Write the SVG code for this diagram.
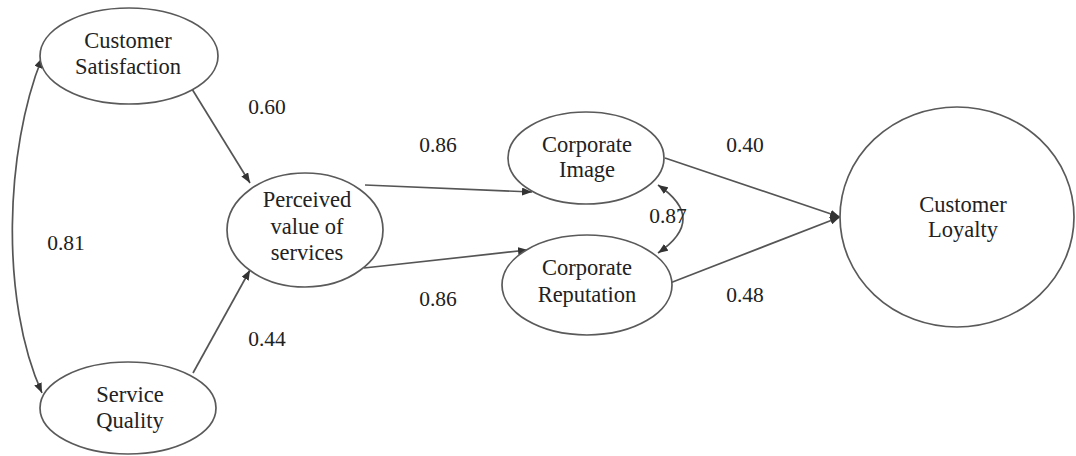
<svg xmlns="http://www.w3.org/2000/svg" width="1076" height="456" viewBox="0 0 1076 456">
  <style>
    .node ellipse { fill: #ffffff; stroke: #5a5a5a; stroke-width: 1.7; }
    .node text { font-family: "Liberation Serif", "Times New Roman", serif; font-size: 22.5px; fill: #222; text-anchor: middle; }
    .lbl { font-family: "Liberation Serif", "Times New Roman", serif; font-size: 21.5px; fill: #222; text-anchor: middle; }
    .edge { fill: none; stroke: #555; stroke-width: 1.7; }
  </style>
  <defs>
    <marker id="arrow" viewBox="0 0 10 8" refX="10" refY="4" markerWidth="10" markerHeight="8" markerUnits="userSpaceOnUse" orient="auto-start-reverse">
      <path d="M0,0 L10,4 L0,8 z" fill="#333"/>
    </marker>
  </defs>
  <rect width="1076" height="456" fill="#ffffff"/>

  <g id="connectors">
    <path class="edge" d="M192,89 L250,183" marker-end="url(#arrow)"/>
    <path class="edge" d="M193,373 L250,270" marker-end="url(#arrow)"/>
    <path class="edge" d="M42,58 C5,150 0,300 42,393" marker-start="url(#arrow)" marker-end="url(#arrow)"/>
    <path class="edge" d="M365,185 L532,192" marker-end="url(#arrow)"/>
    <path class="edge" d="M364,268 L528,250" marker-end="url(#arrow)"/>
    <path class="edge" d="M658,185 Q708,219 658,253" marker-start="url(#arrow)" marker-end="url(#arrow)"/>
    <path class="edge" d="M665,158 L840,217" marker-end="url(#arrow)"/>
    <path class="edge" d="M670,283 L840,217" marker-end="url(#arrow)"/>
  </g>

  <g id="labels">
    <text class="lbl" x="267" y="114">0.60</text>
    <text class="lbl" x="66" y="250">0.81</text>
    <text class="lbl" x="267" y="346">0.44</text>
    <text class="lbl" x="438" y="152">0.86</text>
    <text class="lbl" x="438" y="306">0.86</text>
    <text class="lbl" x="668" y="223">0.87</text>
    <text class="lbl" x="745" y="152">0.40</text>
    <text class="lbl" x="745" y="302">0.48</text>
  </g>

  <g id="customer-satisfaction" class="node">
    <ellipse cx="129" cy="56" rx="89" ry="48"/>
    <text x="128" y="48">Customer</text>
    <text x="128" y="74">Satisfaction</text>
  </g>
  <g id="service-quality" class="node">
    <ellipse cx="128" cy="408" rx="88" ry="46"/>
    <text x="130" y="402">Service</text>
    <text x="130" y="428">Quality</text>
  </g>
  <g id="perceived-value" class="node">
    <ellipse cx="305" cy="230" rx="78" ry="57"/>
    <text x="307" y="207">Perceived</text>
    <text x="307" y="234">value of</text>
    <text x="307" y="260">services</text>
  </g>
  <g id="corporate-image" class="node">
    <ellipse cx="586" cy="158" rx="78" ry="46"/>
    <text x="587" y="152">Corporate</text>
    <text x="587" y="177">Image</text>
  </g>
  <g id="corporate-reputation" class="node">
    <ellipse cx="587" cy="285" rx="85" ry="50"/>
    <text x="587" y="275">Corporate</text>
    <text x="587" y="302">Reputation</text>
  </g>
  <g id="customer-loyalty" class="node">
    <ellipse cx="957" cy="217" rx="117" ry="110"/>
    <text x="963" y="212">Customer</text>
    <text x="963" y="237">Loyalty</text>
  </g>
</svg>
